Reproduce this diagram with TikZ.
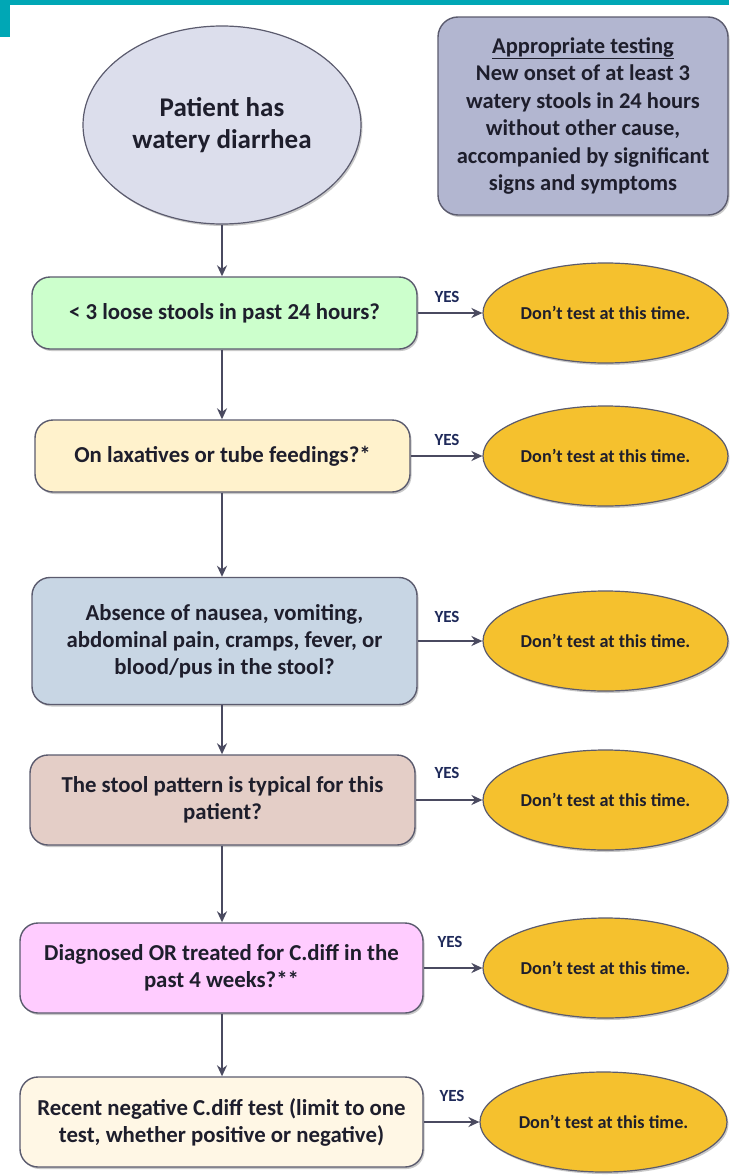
\documentclass[tikz,border=0pt]{standalone}
\usepackage{fontspec}
\setmainfont{Carlito}
\usetikzlibrary{arrows.meta,shapes.geometric,shadows}
\definecolor{teal1}{HTML}{00A7B5}
\definecolor{startfill}{HTML}{DCDEEC}
\definecolor{infofill}{HTML}{B2B6D0}
\definecolor{f1}{HTML}{CCFFCC}
\definecolor{f2}{HTML}{FFF2CC}
\definecolor{f3}{HTML}{C8D6E4}
\definecolor{f4}{HTML}{E4CEC7}
\definecolor{f5}{HTML}{FFCCFF}
\definecolor{f6}{HTML}{FFF7E5}
\definecolor{orng}{HTML}{F5C12E}
\definecolor{bord}{HTML}{5B5B6E}
\definecolor{conn}{HTML}{4A4A60}
\definecolor{txt}{HTML}{1E1E2C}
\definecolor{yescol}{HTML}{1F2A5A}
\tikzset{
  shd/.style={drop shadow={shadow xshift=1.5pt,shadow yshift=-2pt,opacity=0.35,fill=black!60}},
  qbox/.style={draw=bord,line width=1.4pt,rounded corners=18pt,shd,align=center,
    text=txt,font=\fontsize{22.8}{27}\selectfont\bfseries,inner sep=0pt},
  dont/.style={ellipse,draw=bord,line width=1.2pt,fill=orng,shd,minimum width=245pt,
    minimum height=100pt,inner sep=0pt,text=txt,font=\fontsize{18.2}{20}\selectfont\bfseries},
  yes/.style={text=yescol,font=\fontsize{17}{18}\selectfont\bfseries,inner sep=0pt},
  conline/.style={draw=conn,line width=2pt,-{Stealth[length=11pt,width=10pt]}},
}
\begin{document}
\begin{tikzpicture}[x=1pt,y=-1pt]
\useasboundingbox (0,0) rectangle (729,1175);
\fill[white] (0,0) rectangle (729,1175);
% top teal bar
\fill[teal1] (0,0) rectangle (729,5);
\fill[teal1] (0,0) rectangle (10,37);

\node[ellipse,draw=bord,line width=1.2pt,fill=startfill,shd,minimum width=278pt,minimum height=198pt,
  inner sep=0pt,align=center,text=txt,font=\fontsize{27}{32}\selectfont\bfseries]
  (start) at (222,125) {Patient has\\watery diarrhea};

\node[draw=bord,line width=1.4pt,rounded corners=20pt,fill=infofill,shd,minimum width=290pt,minimum height=198pt,
  inner sep=0pt,align=center,text=txt,font=\fontsize{22.5}{27.5}\selectfont\bfseries]
  (info) at (583,116) {\underline{Appropriate testing}\\New onset of at least 3\\watery stools in 24 hours\\without other cause,\\accompanied by significant\\signs and symptoms};

\node[qbox,fill=f1,minimum width=385pt,minimum height=72pt] (q1) at (224.5,313) {< 3 loose stools in past 24 hours?};
\node[qbox,fill=f2,minimum width=375pt,minimum height=72pt] (q2) at (222.5,456) {On laxatives or tube feedings?*};
\node[qbox,fill=f3,minimum width=385pt,minimum height=127pt] (q3) at (224.5,641) {Absence of nausea, vomiting,\\abdominal pain, cramps, fever, or\\blood/pus in the stool?};
\node[qbox,fill=f4,minimum width=385pt,minimum height=90pt] (q4) at (222.5,800) {The stool pattern is typical for this\\patient?};
\node[qbox,fill=f5,minimum width=403pt,minimum height=90pt] (q5) at (221.5,968) {Diagnosed OR treated for C.diff in the\\past 4 weeks?**};
\node[qbox,fill=f6,minimum width=403pt,minimum height=90pt] (q6) at (221.5,1122) {Recent negative C.diff test (limit to one\\test, whether positive or negative)};

\node[dont] (d1) at (605.5,313) {Don’t test at this time.};
\node[dont] (d2) at (605.5,456) {Don’t test at this time.};
\node[dont] (d3) at (605.5,641) {Don’t test at this time.};
\node[dont] (d4) at (605.5,800) {Don’t test at this time.};
\node[dont] (d5) at (605.5,968) {Don’t test at this time.};
\node[dont,minimum width=247pt] (d6) at (603.5,1122) {Don’t test at this time.};

\node[yes] (y1) at (447,297) {YES};
\node[yes] (y2) at (447,440) {YES};
\node[yes] (y3) at (447,617) {YES};
\node[yes] (y4) at (447,773) {YES};
\node[yes] (y5) at (450,942) {YES};
\node[yes] (y6) at (452,1096) {YES};

\draw[conline] (start.south) -- (q1.north -| start.south);
\draw[conline] (q1.south -| start.south) -- (q2.north -| start.south);
\draw[conline] (q2.south -| start.south) -- (q3.north -| start.south);
\draw[conline] (q3.south -| start.south) -- (q4.north -| start.south);
\draw[conline] (q4.south -| start.south) -- (q5.north -| start.south);
\draw[conline] (q5.south -| start.south) -- (q6.north -| start.south);

\draw[conline] (q1.east) -- (d1.west);
\draw[conline] (q2.east) -- (d2.west);
\draw[conline] (q3.east) -- (d3.west);
\draw[conline] (q4.east) -- (d4.west);
\draw[conline] (q5.east) -- (d5.west);
\draw[conline] (q6.east) -- (d6.west);
\end{tikzpicture}
\end{document}
